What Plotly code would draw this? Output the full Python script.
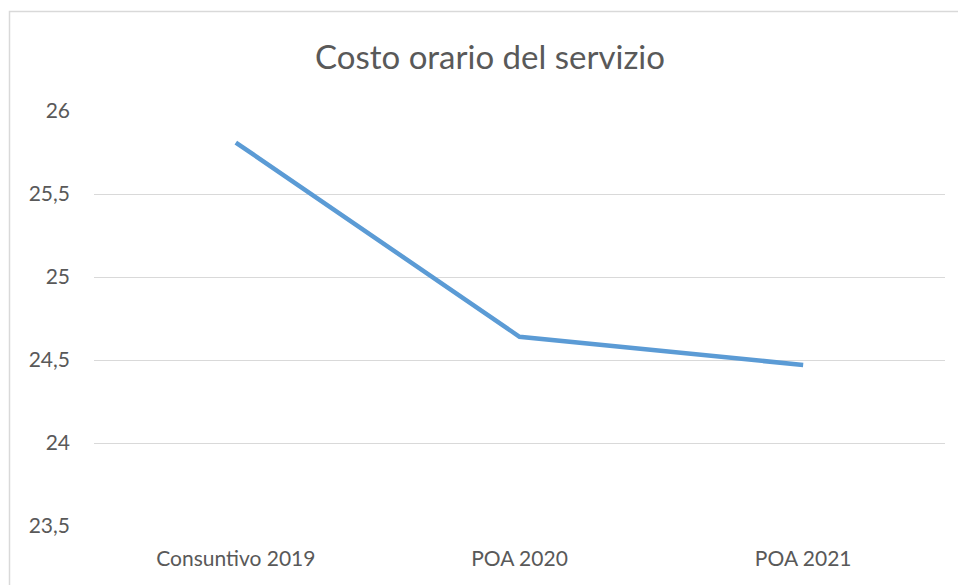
import plotly.graph_objects as go

categories = ["Consuntivo 2019", "POA 2020", "POA 2021"]
values = [25.81, 24.64, 24.47]
y_ticks = [23.5, 24, 24.5, 25, 25.5, 26]
y_tick_labels = ["23,5", "24", "24,5", "25", "25,5", "26"]

W, H = 958, 577  # page body has an 8px margin
L, T = 86, 103
PR, PB = 937, 518  # plot right / bottom in figure px
fig = go.Figure()
fig.add_trace(go.Scatter(
    x=categories, y=values, mode="lines",
    line=dict(color="#5B9BD5", width=4.5),
    hoverinfo="skip", showlegend=False,
))

font_family = "Lato, 'Open Sans', sans-serif"
pw, ph = PR - L, PB - T
fig.update_layout(
    width=W, height=H,
    margin=dict(l=L, r=W - PR, t=T, b=H - PB, autoexpand=False),
    paper_bgcolor="white", plot_bgcolor="white",
    title=dict(text="Costo orario del servizio", x=482 / W, xanchor="center",
               y=1 - 49 / H, yanchor="middle",
               font=dict(family=font_family, size=33, color="#595959")),
    font=dict(family=font_family, color="#595959"),
    xaxis=dict(range=[-0.5, 2.5], showgrid=False, zeroline=False, showline=False,
               tickfont=dict(size=21, color="#595959"),
               ticklabelstandoff=18),
    yaxis=dict(range=[23.5, 26], tickvals=y_ticks, ticktext=y_tick_labels,
               showgrid=True, gridcolor="#D9D9D9", gridwidth=1,
               zeroline=False, showline=False,
               tickfont=dict(size=21, color="#595959"),
               ticklabelstandoff=23),
    shapes=[dict(type="rect", xref="paper", yref="paper",
                 x0=(1.5 - L) / pw, x1=2, y0=-1, y1=(PB - 3.5) / ph,
                 line=dict(color="#D9D9D9", width=1.5), fillcolor="rgba(0,0,0,0)",
                 layer="below")],
)

fig.write_html("out.html")
